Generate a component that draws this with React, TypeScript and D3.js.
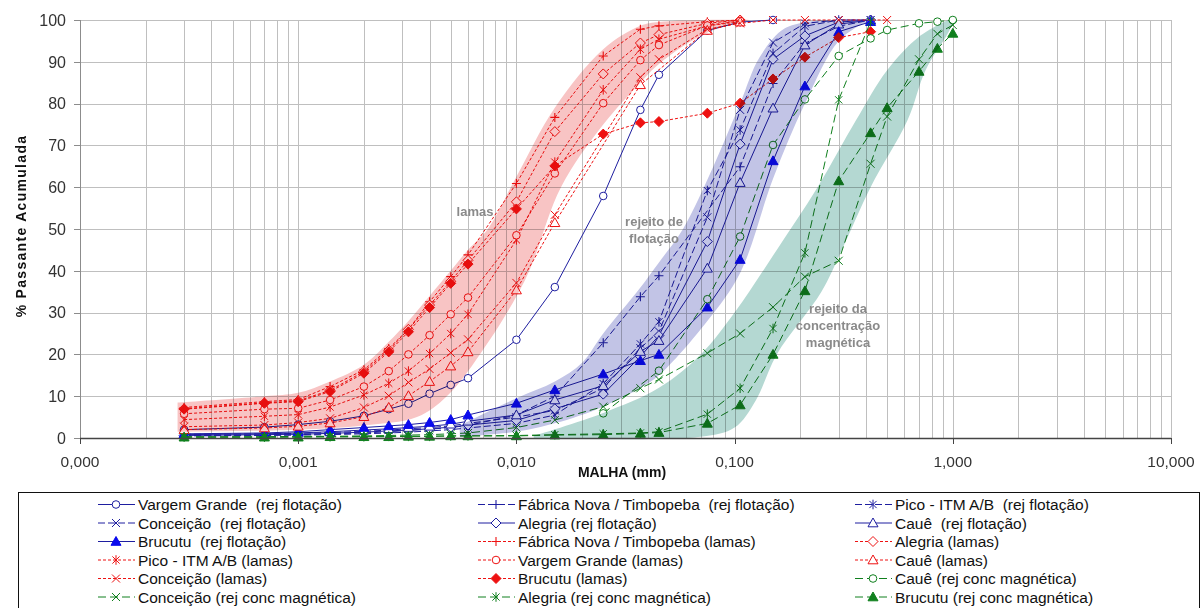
import * as d3 from "d3";

const WIDTH = 1202;
const HEIGHT = 608;
const LEFT = 80;
const RIGHT = 1171;
const TOP = 20;
const BOTTOM = 438;

// particle sizes (mm) used by the analyses
const sizes = [
  0.0003, 0.0007, 0.001, 0.0014, 0.002, 0.0026, 0.0032, 0.004, 0.005, 0.006,
  0.01, 0.015, 0.025, 0.037, 0.045, 0.075, 0.106, 0.15, 0.21, 0.3, 0.42, 0.5,
  0.7, 0.85, 1.0,
];

// rejeito de flotação
const vargemRfSizes = sizes.slice(0, 18);
const vargemRf = [2.0, 2.6, 3.2, 4.0, 5.3, 6.9, 8.2, 10.6, 12.7, 14.3, 23.5, 36.1, 57.9, 78.5, 86.9, 97.5, 99.5, 100];
const fabricaRfSizes = [...sizes.slice(0, 15), 0.106, 0.15, 0.21, 0.3, 0.42];
const fabricaRf = [0.6, 0.7, 0.8, 1.0, 1.2, 1.5, 1.8, 2.1, 2.5, 3.0, 5.5, 10.0, 22.8, 33.8, 38.8, 64.9, 84.8, 94.4, 98.5, 100];
const picoRfSizes = sizes.slice(0, 21);
const picoRf = [0.5, 0.6, 0.7, 0.8, 1.0, 1.2, 1.4, 1.7, 2.0, 2.4, 3.5, 5.5, 13.0, 22.5, 27.8, 59.2, 73.7, 92.0, 98.5, 100, 100];
const conceicaoRfSizes = sizes.slice(0, 21);
const conceicaoRf = [0.9, 1.0, 1.1, 1.3, 1.6, 1.9, 2.2, 2.5, 2.9, 3.5, 5.0, 6.6, 11.9, 21.5, 25.5, 52.8, 78.5, 94.6, 99.2, 100, 100];
const alegriaRfSizes = sizes.slice(0, 21);
const alegriaRf = [0.6, 0.8, 0.9, 1.1, 1.4, 1.7, 1.9, 2.2, 2.6, 3.1, 4.2, 7.0, 10.5, 19.5, 24.5, 47.0, 70.3, 90.6, 96.2, 99.5, 100];
const caueRfSizes = sizes.slice(0, 21);
const caueRf = [0.8, 1.0, 1.2, 1.5, 1.9, 2.2, 2.5, 2.8, 3.3, 4.0, 5.5, 9.1, 12.5, 20.7, 23.3, 40.6, 61.1, 78.9, 94.0, 99.0, 100];
const brucutuRfSizes = sizes.slice(0, 21);
const brucutuRf = [1.0, 1.2, 1.5, 2.0, 2.5, 2.9, 3.2, 3.7, 4.4, 5.5, 8.3, 11.5, 15.3, 18.5, 20.0, 31.3, 42.7, 66.3, 84.2, 97.2, 99.6];

// lamas
const fabricaLmSizes = sizes.slice(0, 17);
const fabricaLm = [7.3, 8.7, 9.2, 12.3, 16.3, 21.4, 26.0, 32.6, 38.6, 43.8, 60.9, 76.7, 91.4, 97.8, 98.6, 99.6, 100];
const alegriaLmSizes = sizes.slice(0, 17);
const alegriaLm = [7.0, 8.4, 8.9, 11.4, 15.9, 21.0, 26.0, 31.8, 37.5, 42.5, 56.5, 73.3, 87.1, 94.5, 96.5, 99.2, 100];
const picoLmSizes = sizes.slice(0, 17);
const picoLm = [4.4, 5.2, 5.6, 7.4, 10.3, 13.1, 16.0, 20.2, 25.0, 29.6, 47.4, 66.0, 83.3, 93.0, 95.4, 98.6, 99.6];
const vargemLmSizes = sizes.slice(0, 17);
const vargemLm = [5.8, 6.9, 7.1, 9.1, 12.3, 16.0, 20.0, 24.6, 29.6, 33.6, 48.5, 63.3, 80.1, 90.4, 94.0, 98.7, 99.8];
const caueLmSizes = [...sizes.slice(0, 12), 0.037, 0.075, 0.106];
const caueLm = [2.0, 2.4, 2.8, 3.6, 5.1, 7.3, 10.1, 13.5, 17.2, 20.6, 35.4, 51.5, 84.5, 97.5, 99.5];
const conceicaoLmSizes = [...sizes.slice(0, 12), 0.037, 0.045, 0.075, 0.106, 0.15, 0.21, 0.3, 0.5];
const conceicaoLm = [2.7, 3.1, 3.7, 4.7, 7.3, 10.1, 13.3, 16.5, 20.4, 23.6, 37.1, 53.4, 86.3, 90.6, 97.8, 99.2, 100, 100, 100, 100];
const brucutuLmSizes = sizes.slice(0, 21);
const brucutuLm = [6.9, 8.3, 8.7, 11.1, 15.5, 20.6, 25.4, 31.2, 37.0, 41.6, 54.8, 65.1, 72.7, 75.4, 75.7, 77.7, 80.1, 85.9, 91.1, 95.8, 97.2];

// rejeito da concentração magnética
const caueRcmSizes = [0.025, 0.045, 0.075, 0.106, 0.15, 0.21, 0.3, 0.42, 0.5, 0.7, 0.85, 1.0];
const caueRcm = [5.9, 16.1, 33.2, 48.2, 70.1, 81.0, 91.4, 95.6, 97.6, 99.2, 99.6, 100];
const conceicaoRcmSizes = sizes;
const conceicaoRcm = [0.3, 0.3, 0.4, 0.4, 0.5, 0.6, 0.7, 0.8, 1.0, 1.2, 2.5, 4.3, 7.5, 11.9, 14.0, 20.3, 25.0, 31.3, 38.6, 42.4, 65.6, 76.9, 90.6, 96.7, 98.8];
const alegriaRcmSizes = sizes.slice(0, 21);
const alegriaRcm = [0.2, 0.2, 0.3, 0.3, 0.3, 0.4, 0.4, 0.4, 0.5, 0.5, 0.6, 0.8, 1.0, 1.2, 1.5, 5.7, 11.9, 26.2, 44.3, 80.9, 99.6];
const brucutuRcmSizes = sizes;
const brucutuRcm = [0.2, 0.2, 0.2, 0.3, 0.3, 0.3, 0.4, 0.4, 0.5, 0.5, 0.5, 0.7, 0.8, 1.1, 1.3, 3.5, 7.9, 20.0, 35.2, 61.5, 73.0, 79.0, 87.7, 93.2, 96.8];

// shaded envelopes (upper edge, lower edge)
const lamasUpperSizes = [0.00028, 0.0007, 0.001, 0.0014, 0.002, 0.0026, 0.0032, 0.004, 0.005, 0.006, 0.0074, 0.01, 0.015, 0.025, 0.037, 0.045, 0.075, 0.12];
const lamasUpper = [8.5, 10, 10.8, 13.5, 17.5, 23, 28, 34, 40, 45, 50, 62.5, 79, 93, 98.6, 99.5, 100, 100];
const lamasLowerSizes = [0.00028, 0.001, 0.002, 0.0035, 0.0048, 0.0068, 0.011, 0.016, 0.025, 0.037, 0.045, 0.075, 0.12];
const lamasLower = [1.5, 2, 3, 5, 10, 20, 38, 60, 75, 85, 89.5, 97, 100];

const flotUpperSizes = [0.0055, 0.01, 0.015, 0.02, 0.025, 0.037, 0.045, 0.058, 0.08, 0.106, 0.13, 0.17, 0.25];
const flotUpper = [3, 9.5, 13.5, 18, 25, 36, 42, 50, 65, 80, 91, 98, 100];
const flotLowerSizes = [0.0055, 0.01, 0.015, 0.025, 0.037, 0.045, 0.075, 0.106, 0.15, 0.21, 0.3, 0.4];
const flotLower = [0.3, 1.5, 3.5, 7.5, 12, 15, 28, 39.5, 62, 80, 95, 99.5];

const magUpperSizes = [0.012, 0.025, 0.045, 0.07, 0.1, 0.156, 0.24, 0.36, 0.5, 0.7, 0.95];
const magUpper = [0.5, 6, 12, 20, 30, 45, 60, 76, 88, 96, 100];
const magLowerSizes = [0.012, 0.07, 0.1, 0.125, 0.156, 0.25, 0.31, 0.42, 0.62, 0.75, 0.93, 1.0];
const magLower = [0, 0.3, 2.5, 9, 20, 35, 45, 60, 76, 88, 96, 99];

const xTicks = [0.0001, 0.001, 0.01, 0.1, 1, 10];
const yTicks = [0, 10, 20, 30, 40, 50, 60, 70, 80, 90, 100];

const BLUE = "#1e1ea0";
const BLUE_FILL = "#0a0aee";
const RED = "#ee1111";
const GREEN = "#10801e";

type Shape = "circle" | "plus" | "star" | "x" | "diamond" | "triangle";
type Group = "rf" | "lm" | "rcm";

interface Series {
  name: string;
  sizes: number[];
  values: number[];
  group: Group;
  shape: Shape;
  filled?: boolean;
  dashed?: boolean;
}

const series: Series[] = [
  { name: "Vargem Grande  (rej flotação)", sizes: vargemRfSizes, values: vargemRf, group: "rf", shape: "circle" },
  { name: "Fábrica Nova / Timbopeba  (rej flotação)", sizes: fabricaRfSizes, values: fabricaRf, group: "rf", shape: "plus", dashed: true },
  { name: "Pico - ITM A/B  (rej flotação)", sizes: picoRfSizes, values: picoRf, group: "rf", shape: "star", dashed: true },
  { name: "Conceição  (rej flotação)", sizes: conceicaoRfSizes, values: conceicaoRf, group: "rf", shape: "x", dashed: true },
  { name: "Alegria (rej flotação)", sizes: alegriaRfSizes, values: alegriaRf, group: "rf", shape: "diamond" },
  { name: "Cauê  (rej flotação)", sizes: caueRfSizes, values: caueRf, group: "rf", shape: "triangle" },
  { name: "Brucutu  (rej flotação)", sizes: brucutuRfSizes, values: brucutuRf, group: "rf", shape: "triangle", filled: true },
  { name: "Fábrica Nova / Timbopeba (lamas)", sizes: fabricaLmSizes, values: fabricaLm, group: "lm", shape: "plus" },
  { name: "Alegria (lamas)", sizes: alegriaLmSizes, values: alegriaLm, group: "lm", shape: "diamond" },
  { name: "Pico - ITM A/B (lamas)", sizes: picoLmSizes, values: picoLm, group: "lm", shape: "star" },
  { name: "Vargem Grande (lamas)", sizes: vargemLmSizes, values: vargemLm, group: "lm", shape: "circle" },
  { name: "Cauê (lamas)", sizes: caueLmSizes, values: caueLm, group: "lm", shape: "triangle" },
  { name: "Conceição (lamas)", sizes: conceicaoLmSizes, values: conceicaoLm, group: "lm", shape: "x" },
  { name: "Brucutu (lamas)", sizes: brucutuLmSizes, values: brucutuLm, group: "lm", shape: "diamond", filled: true },
  { name: "Cauê (rej conc magnética)", sizes: caueRcmSizes, values: caueRcm, group: "rcm", shape: "circle" },
  { name: "Conceição (rej conc magnética)", sizes: conceicaoRcmSizes, values: conceicaoRcm, group: "rcm", shape: "x" },
  { name: "Alegria (rej conc magnética)", sizes: alegriaRcmSizes, values: alegriaRcm, group: "rcm", shape: "star" },
  { name: "Brucutu (rej conc magnética)", sizes: brucutuRcmSizes, values: brucutuRcm, group: "rcm", shape: "triangle", filled: true },
];

const groupColor = (g: Group) => (g === "rf" ? BLUE : g === "lm" ? RED : GREEN);
const groupDash = (s: Series) => {
  if (s.group === "lm") return "3,2";
  if (s.group === "rcm") return "8,4";
  return s.dashed ? "7,3" : undefined;
};

const x = d3.scaleLog().domain([0.0001, 10]).range([LEFT, RIGHT]);
const y = d3.scaleLinear().domain([0, 100]).range([BOTTOM, TOP]);

const fmt = (v: number) => d3.format(".3f")(v).replace(".", ",");

const FONT = "'Liberation Sans', Arial, sans-serif";

const Marker = ({ shape, cx, cy, color, filled }: { shape: Shape; cx: number; cy: number; color: string; filled?: boolean }) => {
  const fillCol = filled ? (color === BLUE ? BLUE_FILL : color) : "white";
  const t = `translate(${cx},${cy})`;
  switch (shape) {
    case "circle":
      return <circle cx={cx} cy={cy} r={3.8} fill="white" stroke={color} strokeWidth={1} />;
    case "diamond":
      return <path transform={t} d="M0,-5L5,0L0,5L-5,0Z" fill={fillCol} stroke={color} strokeWidth={1} />;
    case "triangle":
      return <path transform={t} d="M0,-5L5,3.8L-5,3.8Z" fill={fillCol} stroke={filled ? fillCol : color} strokeWidth={1} />;
    case "plus":
      return <path transform={t} d="M-4.5,0H4.5M0,-4.5V4.5" stroke={color} strokeWidth={1.1} fill="none" />;
    case "x":
      return <path transform={t} d="M-4,-4L4,4M-4,4L4,-4" stroke={color} strokeWidth={1} fill="none" />;
    case "star":
      return <path transform={t} d="M-3.6,-3.6L3.6,3.6M-3.6,3.6L3.6,-3.6M0,-4.8V4.8" stroke={color} strokeWidth={1} fill="none" />;
  }
  return null;
};

const edge = d3
  .line<[number, number]>()
  .x((d) => x(d[0]))
  .y((d) => y(d[1]))
  .curve(d3.curveCatmullRom.alpha(0.5));

const bandPath = (us: number[], uv: number[], ls: number[], lv: number[]) => {
  const upper = us.map((s, i) => [s, uv[i]] as [number, number]);
  const lower = ls.map((s, i) => [s, lv[i]] as [number, number]).reverse();
  return (edge(upper) || "") + (edge(lower) || "").replace(/^M/, "L") + "Z";
};

const seriesLine = d3
  .line<[number, number]>()
  .x((d) => x(d[0]))
  .y((d) => y(d[1]));

const minorTicks: number[] = [];
for (let e = -4; e < 1; e++) {
  for (let m = 2; m <= 9; m++) minorTicks.push(m * Math.pow(10, e));
}

const legendCols = [98, 478, 855];
const legendRow0 = 504.5;
const legendRowStep = 18.5;

export default function App() {
  return (
    <svg
      width={WIDTH}
      height={HEIGHT}
      style={{ position: "absolute", left: 0, top: 0, fontFamily: FONT }}
    >
      <rect x={0} y={0} width={WIDTH} height={HEIGHT} fill="white" />

      {/* grid */}
      <g stroke="#bfbfbf" strokeWidth={1}>
        {minorTicks.map((t) => (
          <line key={`m${t}`} x1={Math.round(x(t)) + 0.5} x2={Math.round(x(t)) + 0.5} y1={TOP} y2={BOTTOM} />
        ))}
        {xTicks.map((t) => (
          <line key={`d${t}`} x1={Math.round(x(t)) + 0.5} x2={Math.round(x(t)) + 0.5} y1={TOP} y2={BOTTOM} />
        ))}
        {yTicks.map((t) => (
          <line key={`h${t}`} x1={LEFT} x2={RIGHT} y1={Math.round(y(t)) + 0.5} y2={Math.round(y(t)) + 0.5} />
        ))}
      </g>

      {/* series */}
      {series.map((s, si) => {
        const col = groupColor(s.group);
        const pts = s.sizes.map((v, i) => [v, s.values[i]] as [number, number]);
        return (
          <g key={si}>
            <path d={seriesLine(pts) || ""} fill="none" stroke={col} strokeWidth={1} strokeDasharray={groupDash(s)} />
            {pts.map((p, i) => (
              <Marker key={i} shape={s.shape} cx={x(p[0])} cy={y(p[1])} color={col} filled={s.filled} />
            ))}
          </g>
        );
      })}

      {/* envelopes */}
      <g style={{ mixBlendMode: "multiply" }}>
        <path d={bandPath(lamasUpperSizes, lamasUpper, lamasLowerSizes, lamasLower)} fill="#f8c4c4" />
      </g>
      <g style={{ mixBlendMode: "multiply" }}>
        <path d={bandPath(flotUpperSizes, flotUpper, flotLowerSizes, flotLower)} fill="#c2c4e6" />
      </g>
      <g style={{ mixBlendMode: "multiply" }}>
        <path d={bandPath(magUpperSizes, magUpper, magLowerSizes, magLower)} fill="#b4d8d2" />
      </g>

      {/* envelope labels */}
      <g fill="#8a8a8a" fontWeight="bold" fontSize={13} textAnchor="middle">
        <text x={475} y={216}>lamas</text>
        <text x={654} y={226}>rejeito de</text>
        <text x={654} y={243}>flotação</text>
        <text x={838} y={313}>rejeito da</text>
        <text x={838} y={330}>concentração</text>
        <text x={838} y={347}>magnética</text>
      </g>

      {/* axes */}
      <line x1={LEFT + 0.5} x2={LEFT + 0.5} y1={TOP} y2={BOTTOM} stroke="#8c8c8c" strokeWidth={1} />
      <line x1={LEFT} x2={RIGHT} y1={BOTTOM + 0.5} y2={BOTTOM + 0.5} stroke="#444" strokeWidth={1.6} />
      {yTicks.map((t) => (
        <g key={`yt${t}`}>
          <line x1={LEFT - 6} x2={LEFT} y1={Math.round(y(t)) + 0.5} y2={Math.round(y(t)) + 0.5} stroke="#8c8c8c" />
          <text x={66} y={y(t)} dy="0.36em" textAnchor="end" fontSize={16} fill="#333">
            {t}
          </text>
        </g>
      ))}
      {xTicks.map((t) => (
        <g key={`xt${t}`}>
          <line x1={Math.round(x(t)) + 0.5} x2={Math.round(x(t)) + 0.5} y1={BOTTOM} y2={BOTTOM + 6} stroke="#444" />
          <text x={x(t)} y={461} dy="0.36em" textAnchor="middle" fontSize={15.5} fill="#333">
            {fmt(t)}
          </text>
        </g>
      ))}
      <text x={622} y={472} dy="0.36em" textAnchor="middle" fontSize={14} fontWeight="bold" fill="#111">
        MALHA (mm)
      </text>
      <text
        transform="translate(21,226) rotate(-90)"
        textAnchor="middle"
        dy="0.36em"
        fontSize={14}
        fontWeight="bold"
        letterSpacing={1.3}
        fill="#111"
      >
        % Passante Acumulada
      </text>

      {/* legend */}
      <rect x={18.5} y={492.5} width={1181} height={130} fill="white" stroke="#111" strokeWidth={1} />
      {series.map((s, i) => {
        const lx = legendCols[i % 3];
        const ly = legendRow0 + Math.floor(i / 3) * legendRowStep;
        const col = groupColor(s.group);
        return (
          <g key={`lg${i}`}>
            <line x1={lx} x2={lx + 37} y1={ly} y2={ly} stroke={col} strokeWidth={1} strokeDasharray={groupDash(s)} />
            <Marker shape={s.shape} cx={lx + 18} cy={ly} color={col} filled={s.filled} />
            <text x={lx + 40} y={ly} dy="0.36em" fontSize={15.5} fill="#111" style={{ whiteSpace: "pre" }}>
              {s.name}
            </text>
          </g>
        );
      })}
    </svg>
  );
}
